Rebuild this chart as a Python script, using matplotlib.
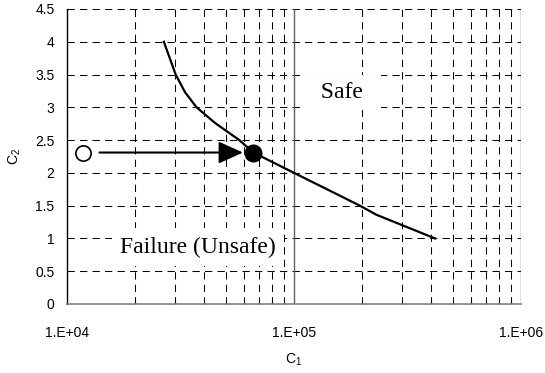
import matplotlib.pyplot as plt
import matplotlib.ticker as mticker

# 곡선 데이터 (C1, C2)
c1_curve = [26700, 30100, 33100, 37200, 44900, 57400, 66200, 100000,
            195000, 231000, 418000]
c2_curve = [4.0, 3.5, 3.23, 3.0, 2.76, 2.5, 2.31, 2.0, 1.5, 1.36, 1.0]

# 시작점(빈 원)과 끝점(채운 원)
start_c1 = 11800
end_c1 = 66200
point_c2 = 2.31
arrow_from_c1 = 13900
arrow_to_c1 = 59600

x_ticks = [1e4, 1e5, 1e6]
x_tick_labels = ["1.E+04", "1.E+05", "1.E+06"]
y_ticks = [0, 0.5, 1, 1.5, 2, 2.5, 3, 3.5, 4, 4.5]
y_tick_labels = ["0", "0.5", "1", "1.5", "2", "2.5", "3", "3.5", "4", "4.5"]

plt.rcParams["font.family"] = ["Liberation Sans", "DejaVu Sans"]
plt.rcParams["mathtext.fontset"] = "custom"
plt.rcParams["mathtext.rm"] = "Liberation Sans"
plt.rcParams["mathtext.it"] = "Liberation Sans"

fig = plt.figure(figsize=(5.45, 3.73), dpi=100)
ax = fig.add_axes([0.123, 0.185, 0.833, 0.791])

ax.set_xscale("log")
ax.set_xlim(1e4, 1e6)
ax.set_ylim(0, 4.5)

# grid
dash = (0, (7, 5))
ax.set_xticks(x_ticks)
ax.set_xticklabels(x_tick_labels, fontsize=10)
ax.xaxis.set_minor_locator(mticker.LogLocator(base=10, subs=range(2, 10)))
ax.xaxis.set_minor_formatter(mticker.NullFormatter())
ax.set_yticks(y_ticks)
ax.set_yticklabels(y_tick_labels, fontsize=10)

for yv in y_ticks[1:]:
    ax.axhline(yv, color="black", lw=0.75, ls=dash, zorder=1)
for xv in ax.xaxis.get_minorticklocs():
    if 1e4 < xv < 1e6:
        ax.axvline(xv, color="black", lw=0.75, ls=dash, zorder=1)
for xv in x_ticks[1:]:
    ax.axvline(xv, color="#606060", lw=1.0, zorder=1)

ax.tick_params(axis="x", which="major", length=0, pad=16)
ax.tick_params(axis="x", which="minor", direction="in", length=3, width=0.8)
ax.tick_params(axis="y", which="major", length=0, pad=9)

for side in ["top", "right"]:
    ax.spines[side].set_visible(False)
ax.spines["left"].set_color("black")
ax.spines["left"].set_linewidth(1.0)
ax.spines["bottom"].set_color("#808080")
ax.spines["bottom"].set_linewidth(1.2)

# 곡선
ax.plot(c1_curve, c2_curve, color="black", lw=1.6, zorder=3)

# 화살표와 점
ax.annotate("", xy=(arrow_to_c1, point_c2), xytext=(arrow_from_c1, point_c2),
            arrowprops=dict(arrowstyle="-|>,head_length=1.0,head_width=0.45",
                            mutation_scale=15, color="black", lw=1.5,
                            shrinkA=0, shrinkB=0), zorder=4)
ax.plot([start_c1], [point_c2], marker="o", ms=11, mfc="white", mec="black",
        mew=1.2, zorder=5)
ax.plot([end_c1], [point_c2], marker="o", ms=12, color="black", zorder=5)

# 영역 텍스트
ax.text(162000, 3.23, "  Safe  ", family="Liberation Serif", fontsize=17,
        ha="center", va="center", zorder=2,
        bbox=dict(boxstyle="square,pad=0.3", fc="white", ec="none"))
ax.text(37800, 0.87, "Failure (Unsafe)", family="Liberation Serif",
        fontsize=17, ha="center", va="center", zorder=2,
        bbox=dict(boxstyle="square,pad=0.35", fc="white", ec="none"))

ax.set_xlabel(r"$\mathrm{C}_1$", fontsize=10, labelpad=8)
ax.set_ylabel(r"$\mathrm{C}_2$", fontsize=10, labelpad=9)

fig.savefig("out.png", dpi=100)
